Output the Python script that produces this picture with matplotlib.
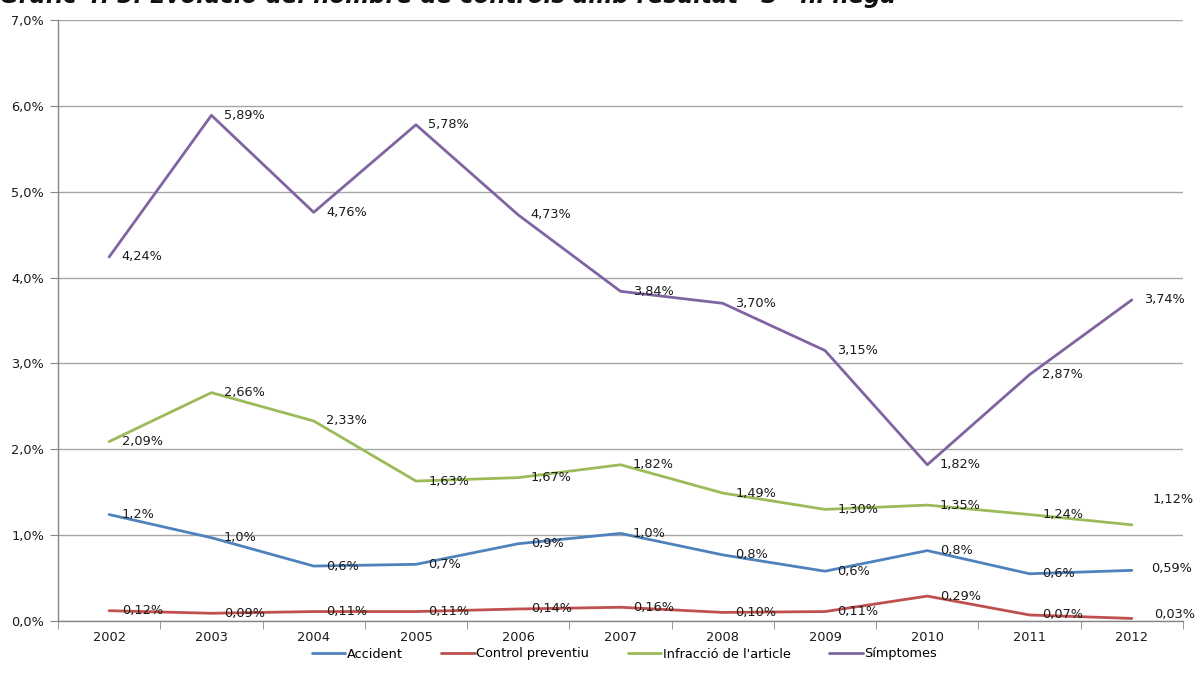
import matplotlib
matplotlib.use("Agg")
import matplotlib.pyplot as plt
import numpy as np

years = ["2002", "2003", "2004", "2005", "2006", "2007", "2008", "2009", "2010", "2011", "2012"]
accident = [1.24, 0.97, 0.64, 0.66, 0.90, 1.02, 0.77, 0.58, 0.82, 0.55, 0.59]
accident_labels = ["1,2%", "1,0%", "0,6%", "0,7%", "0,9%", "1,0%", "0,8%", "0,6%", "0,8%", "0,6%", "0,59%"]
control = [0.12, 0.09, 0.11, 0.11, 0.14, 0.16, 0.10, 0.11, 0.29, 0.07, 0.03]
infraccio = [2.09, 2.66, 2.33, 1.63, 1.67, 1.82, 1.49, 1.30, 1.35, 1.24, 1.12]
simptomes = [4.24, 5.89, 4.76, 5.78, 4.73, 3.84, 3.70, 3.15, 1.82, 2.87, 3.74]
series_names = ["Accident", "Control preventiu", "Infracció de l'article", "Símptomes"]
colors = ["#4F81BD", "#C0504D", "#9BBB59", "#8064A2"]

def fmt2(v):
    return f"{v:.2f}".replace(".", ",") + "%"

series = [
    (accident, accident_labels),
    (control, [fmt2(v) for v in control]),
    (infraccio, [fmt2(v) for v in infraccio]),
    (simptomes, [fmt2(v) for v in simptomes]),
]

fig = plt.figure(figsize=(11.96, 6.88), dpi=100)
ax = fig.add_axes([58/1196, 1-621/688, (1183-58)/1196, (621-20)/688])

# offsets (points) for the last (2012) label of each series
last_offsets = {
    "Accident": (14, 1),
    "Control preventiu": (16, 3),
    "Infracció de l'article": (15, 18),
    "Símptomes": (9, 0),
}

x = np.arange(len(years))
handles = []
for (vals, labs), name, c in zip(series, series_names, colors):
    h, = ax.plot(x, vals, color=c, lw=2.0, label=name, solid_capstyle="round", solid_joinstyle="round", zorder=3)
    handles.append(h)
    for i, (v, lab) in enumerate(zip(vals, labs)):
        if i == len(vals) - 1:
            dx, dy = last_offsets[name]
        else:
            dx, dy = 9, 0
        ax.annotate(lab, (i, v), xytext=(dx, dy), textcoords="offset points",
                    ha="left", va="center", fontsize=9.3, color="#1a1a1a", zorder=4,
                    annotation_clip=False)

ax.set_xlim(-0.5, len(years) - 0.5)
ax.set_ylim(0, 7)
ax.set_yticks(np.arange(0, 7.01, 1))
ax.set_yticklabels([f"{v:.1f}".replace(".", ",") + "%" for v in np.arange(0, 7.01, 1)], fontsize=9.3, color="#1a1a1a")
ax.set_xticks(x)
ax.set_xticklabels(years, fontsize=9.3, color="#1a1a1a")
ax.set_xticks(np.arange(-0.5, len(years) + 0.5, 1), minor=True)
ax.tick_params(axis="x", which="major", length=0, pad=7)
ax.tick_params(axis="x", which="minor", length=6, color="#868686", direction="out")
ax.tick_params(axis="y", length=6, color="#868686", pad=4)
ax.grid(axis="y", color="#A6A6A6", lw=1.0, zorder=0)
ax.set_axisbelow(True)
for s in ["top", "right"]:
    ax.spines[s].set_visible(False)
for s in ["left", "bottom"]:
    ax.spines[s].set_color("#868686")
    ax.spines[s].set_linewidth(1.0)

fig.legend(handles=handles, labels=series_names, loc="center", bbox_to_anchor=(0.522, 1-654/688),
           ncol=4, frameon=False, fontsize=9.3, handlelength=2.6, handletextpad=0.1, columnspacing=3.0)

fig.text(0.0, 1-3/688, "Gràfic 4. 3. Evolució del nombre de controls amb resultat “S” ni nega",
         fontsize=16.5, fontweight="bold", fontstyle="italic", va="baseline", ha="left", color="#111111")

fig.savefig("out.png", dpi=100)
